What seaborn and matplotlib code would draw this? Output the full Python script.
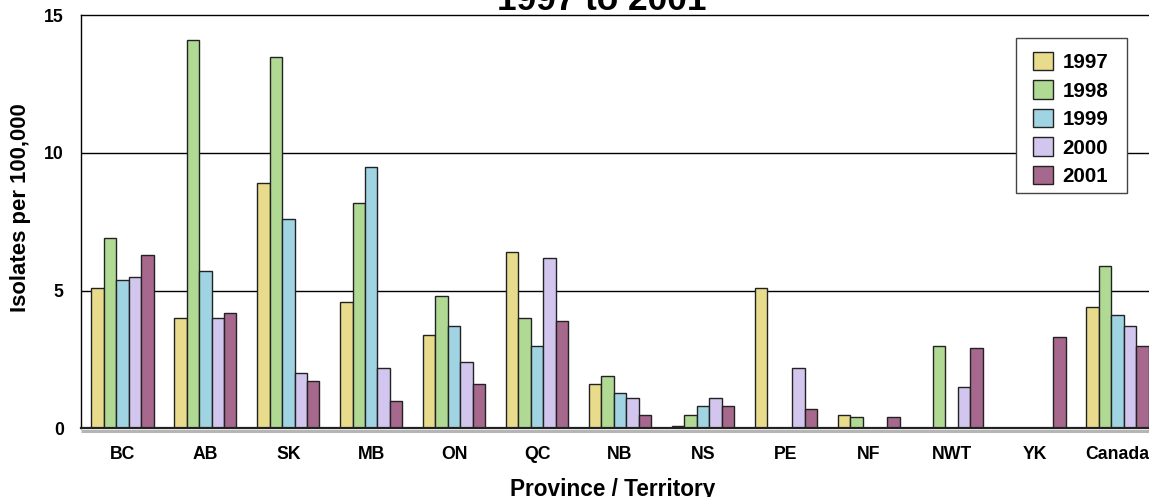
import numpy as np
import pandas as pd
import matplotlib
matplotlib.use("Agg")
import matplotlib.pyplot as plt
import matplotlib.transforms as mtransforms
from matplotlib.patches import Rectangle
import seaborn as sns

# Isolates per 100,000 population by province / territory, 1997-2001
provinces = ["BC", "AB", "SK", "MB", "ON", "QC", "NB", "NS", "PE", "NF", "NWT", "YK", "Canada"]
years = ["1997", "1998", "1999", "2000", "2001"]

rate_1997 = [5.1, 4.0, 8.9, 4.6, 3.4, 6.4, 1.6, 0.1, 5.1, 0.5, 0.0, 0.0, 4.4]
rate_1998 = [6.9, 14.1, 13.5, 8.2, 4.8, 4.0, 1.9, 0.5, 0.0, 0.4, 3.0, 0.0, 5.9]
rate_1999 = [5.4, 5.7, 7.6, 9.5, 3.7, 3.0, 1.3, 0.8, 0.0, 0.0, 0.0, 0.0, 4.1]
rate_2000 = [5.5, 4.0, 2.0, 2.2, 2.4, 6.2, 1.1, 1.1, 2.2, 0.0, 1.5, 0.0, 3.7]
rate_2001 = [6.3, 4.2, 1.7, 1.0, 1.6, 3.9, 0.5, 0.8, 0.7, 0.4, 2.9, 3.3, 3.0]

colors = ["#E8DC8C", "#B0DA94", "#A0D4E2", "#D2C6EE", "#A6688C"]

series = [rate_1997, rate_1998, rate_1999, rate_2000, rate_2001]
df = pd.DataFrame({
    "Province": np.tile(provinces, len(years)),
    "Year": np.repeat(years, len(provinces)),
    "Rate": np.concatenate(series),
})

sns.set_theme(style="white")
plt.rcParams["font.family"] = ["Liberation Sans", "DejaVu Sans"]
plt.rcParams["font.weight"] = "bold"
for key in ("text.color", "axes.labelcolor", "xtick.color", "ytick.color"):
    plt.rcParams[key] = "black"

W, H = 1149, 497
fig = plt.figure(figsize=(W / 100, H / 100), dpi=100)
ax_left, ax_right = 81, 1159
ax_top, ax_bottom = 15.3, 428.3
ax = fig.add_axes([ax_left / W, 1 - ax_bottom / H,
                   (ax_right - ax_left) / W, (ax_bottom - ax_top) / H])

sns.barplot(data=df, x="Province", y="Rate", hue="Year", order=provinces,
            hue_order=years, palette=colors, saturation=1, width=0.75,
            edgecolor="#222222", linewidth=1.0, errorbar=None, ax=ax, zorder=3)

ax.set_xlim(-0.5, len(provinces) - 0.5)
ax.set_ylim(0, 15)
ax.set_yticks([0, 5, 10, 15])
ax.set_yticklabels(["0", "5", "10", "15"])
ax.tick_params(axis="y", length=0, pad=12.5, labelsize=12.7, colors="black")
ax.tick_params(axis="x", length=0, pad=13, labelsize=12.7, colors="black")
for lbl in ax.get_xticklabels() + ax.get_yticklabels():
    lbl.set_fontweight("bold")
ax.set_xlabel("")
ax.set_ylabel("")

# horizontal gridlines
for yv in (5, 10):
    ax.axhline(yv, color="black", lw=1.0, zorder=1)

for side in ("left", "top"):
    ax.spines[side].set_color("black")
    ax.spines[side].set_linewidth(1.0)
ax.spines["right"].set_visible(False)
ax.spines["bottom"].set_color("#222222")
ax.spines["bottom"].set_linewidth(1.6)
ax.spines["bottom"].set_zorder(4)

# soft floor shadow under the baseline
shadow = mtransforms.offset_copy(ax.transData, fig=fig, x=0, y=-2.2, units="points")
ax.plot([-0.5, len(provinces) - 0.5], [0, 0], color="#b5b5b5", lw=2.2,
        transform=shadow, clip_on=False, zorder=2, solid_capstyle="butt")

# legend box drawn separately so its padding can be set on each side
box = Rectangle((1015.7 / W, 1 - 193.3 / H), (1127.3 - 1015.7) / W,
                (193.3 - 38.3) / H, transform=fig.transFigure,
                facecolor="white", edgecolor="#444444", lw=1.0, zorder=6)
ax.add_patch(box)

leg = ax.legend(loc="upper left", bbox_to_anchor=(1032.7 / W, 1 - 52.0 / H),
                bbox_transform=fig.transFigure, borderaxespad=0, frameon=False,
                handlelength=1.0, handleheight=1.0, handletextpad=0.45,
                labelspacing=0.4, borderpad=0,
                prop={"size": 14.8, "weight": "bold"})
leg.set_zorder(7)
for h in leg.legend_handles:
    h.set_edgecolor("#222222")
    h.set_linewidth(1.0)

fig.text(21 / W, 1 - 208 / H, "Isolates per 100,000", rotation=90,
         ha="center", va="center", fontsize=15.9, fontweight="bold")
fig.text(613 / W, 1 - 496 / H, "Province / Territory", ha="center",
         va="baseline", fontsize=16.3, fontweight="bold")
fig.text(601.7 / W, 1 - 10 / H, "1997 to 2001", ha="center", va="baseline",
         fontsize=25.4, fontweight="bold")

fig.savefig("out.png", dpi=100)
